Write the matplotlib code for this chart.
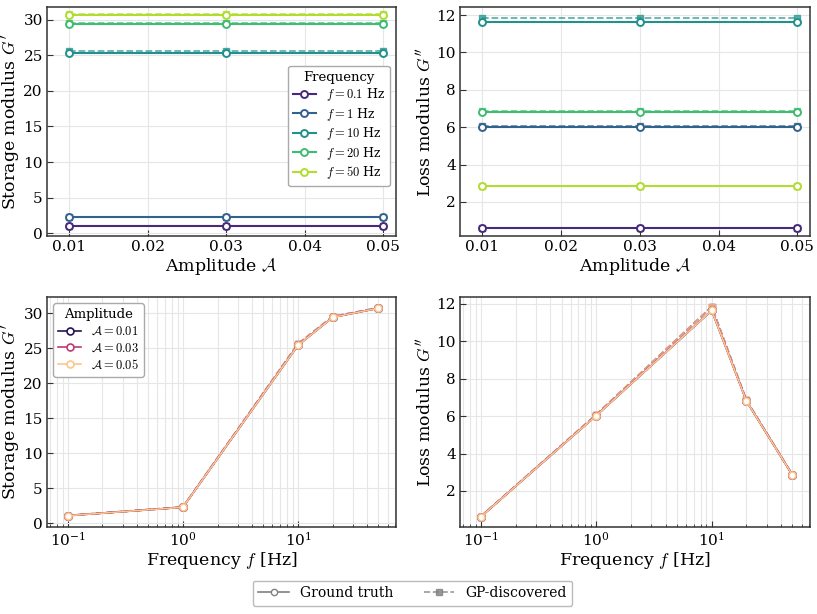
import numpy as np
import matplotlib
matplotlib.use("Agg")
import matplotlib.pyplot as plt
from matplotlib.lines import Line2D

plt.rcParams["font.family"] = ["DejaVu Serif"]
plt.rcParams["mathtext.fontset"] = "cm"

# data
amplitudes = [0.01, 0.03, 0.05]
frequencies = [0.1, 1, 10, 20, 50]
freq_labels = ["$f=0.1$ Hz", "$f=1$ Hz", "$f=10$ Hz", "$f=20$ Hz", "$f=50$ Hz"]
amp_labels = [r"$\mathcal{A}=0.01$", r"$\mathcal{A}=0.03$", r"$\mathcal{A}=0.05$"]

# storage / loss modulus per frequency (constant in amplitude)
g1_true = [1.05, 2.25, 25.4, 29.4, 30.7]
g1_gp = [1.07, 2.28, 25.6, 29.5, 30.75]
g2_true = [0.62, 6.03, 11.65, 6.80, 2.85]
g2_gp = [0.63, 6.08, 11.85, 6.84, 2.86]

freq_colors = plt.cm.viridis(np.linspace(0.12, 0.88, 5))
amp_colors = plt.cm.magma([0.15, 0.52, 0.88])

W, H = 817, 614
fig = plt.figure(figsize=(W / 100, H / 100), dpi=100)


def px_axes(l, t, r, b):
    return fig.add_axes([l / W, 1 - b / H, (r - l) / W, (b - t) / H])


ax1 = px_axes(47, 7, 396, 236)
ax2 = px_axes(460, 7, 810, 236)
ax3 = px_axes(47, 297, 396, 527)
ax4 = px_axes(460, 297, 810, 527)

gt_kw = dict(lw=1.5, marker="o", ms=5, mfc="white", mew=1.4)
gp_kw = dict(lw=1.3, ls="--", marker="s", ms=4.5, alpha=0.7)

# top row: modulus vs amplitude
for ax, gt, gp in [(ax1, g1_true, g1_gp), (ax2, g2_true, g2_gp)]:
    for i, f in enumerate(frequencies):
        ax.plot(amplitudes, [gp[i]] * 3, color=freq_colors[i], zorder=2, **gp_kw)
        ax.plot(amplitudes, [gt[i]] * 3, color=freq_colors[i], label=freq_labels[i],
                zorder=3, **gt_kw)
    ax.set_xlim(0.0072, 0.0516)
    ax.set_xticks([0.01, 0.02, 0.03, 0.04, 0.05])
    ax.set_xlabel(r"Amplitude $\mathcal{A}$", fontsize=12.5, labelpad=1)

ax1.set_ylim(-0.4, 31.8)
ax1.set_yticks([0, 5, 10, 15, 20, 25, 30])
ax1.set_ylabel(r"Storage modulus $G'$", fontsize=12.5, labelpad=1)
ax2.set_ylim(0.18, 12.43)
ax2.set_yticks([2, 4, 6, 8, 10, 12])
ax2.set_ylabel(r"Loss modulus $G''$", fontsize=12.5, labelpad=1)

ax1.legend(title="Frequency", loc="center right", fontsize=9, title_fontsize=9.5,
           fancybox=True, framealpha=1, edgecolor="#aaaaaa", labelspacing=0.2,
           handlelength=1.8, borderpad=0.4, bbox_to_anchor=(1.0, 0.48))

# bottom row: modulus vs frequency
for ax, gt, gp in [(ax3, g1_true, g1_gp), (ax4, g2_true, g2_gp)]:
    for j, a in enumerate(amplitudes):
        ax.plot(frequencies, gp, color=amp_colors[j], zorder=2, **gp_kw)
        ax.plot(frequencies, gt, color=amp_colors[j], label=amp_labels[j], zorder=3,
                lw=1.2, marker="o", ms=5, mfc="white", mew=1.2)
    ax.set_xscale("log")
    ax.set_xlim(0.066, 71)
    ax.set_xlabel(r"Frequency $f$ [Hz]", fontsize=12.5, labelpad=1)
    ax.grid(True, which="minor", color="#e6e6e6", lw=0.8)

ax3.set_ylim(-0.57, 32.3)
ax3.set_yticks([0, 5, 10, 15, 20, 25, 30])
ax3.set_ylabel(r"Storage modulus $G'$", fontsize=12.5, labelpad=1)
ax4.set_ylim(0.07, 12.37)
ax4.set_yticks([2, 4, 6, 8, 10, 12])
ax4.set_ylabel(r"Loss modulus $G''$", fontsize=12.5, labelpad=1)

ax3.legend(title="Amplitude", loc="upper left", fontsize=9, title_fontsize=9.5,
           fancybox=True, framealpha=1, edgecolor="#aaaaaa", labelspacing=0.3,
           handlelength=1.8, borderpad=0.4)

for ax in (ax1, ax2, ax3, ax4):
    ax.grid(True, which="major", color="#e6e6e6", lw=0.8)
    ax.set_axisbelow(True)
    ax.tick_params(direction="in", labelsize=11, length=4, color="#333333", pad=3)
    ax.tick_params(which="minor", direction="in", length=2.5, color="#333333")
    for s in ax.spines.values():
        s.set_color("#333333")
        s.set_linewidth(1.1)

handles = [
    Line2D([], [], color="gray", lw=1.2, marker="o", ms=4.5, mfc="white"),
    Line2D([], [], color="gray", lw=1.2, ls="--", marker="s", ms=4, alpha=0.8),
]
fig.legend(handles, ["Ground truth", "GP-discovered"], loc="center",
           bbox_to_anchor=(0.505, 0.034), ncol=2, fontsize=10, fancybox=True,
           edgecolor="#aaaaaa", columnspacing=2.2, handlelength=2.2)

fig.savefig("out.png", dpi=100)
